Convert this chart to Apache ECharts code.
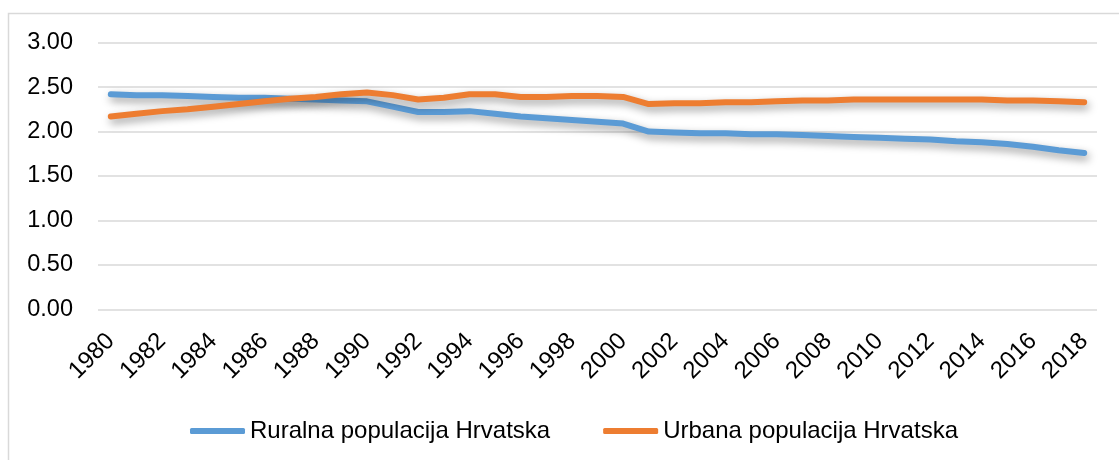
<!DOCTYPE html>
<html>
<head>
<meta charset="utf-8">
<script src="https://cdn.jsdelivr.net/npm/echarts@6/dist/echarts.min.js"></script>
<style>
html,body{margin:0;padding:0;background:#fff;}
#chart{width:1119px;height:460px;}
</style>
</head>
<body>
<div id="chart"></div>
<script>
const years = ["1980","1981","1982","1983","1984","1985","1986","1987","1988","1989","1990","1991","1992","1993","1994","1995","1996","1997","1998","1999","2000","2001","2002","2003","2004","2005","2006","2007","2008","2009","2010","2011","2012","2013","2014","2015","2016","2017","2018"];
const ruralName = "Ruralna populacija Hrvatska";
const urbanName = "Urbana populacija Hrvatska";
const rural = [2.42,2.41,2.41,2.40,2.39,2.38,2.38,2.37,2.36,2.35,2.34,2.28,2.22,2.22,2.23,2.20,2.17,2.15,2.13,2.11,2.09,2.00,1.99,1.98,1.98,1.97,1.97,1.96,1.95,1.94,1.93,1.92,1.91,1.89,1.88,1.86,1.83,1.79,1.76];
const urban = [2.17,2.20,2.23,2.25,2.28,2.31,2.34,2.37,2.39,2.42,2.44,2.41,2.36,2.38,2.42,2.42,2.39,2.39,2.40,2.40,2.39,2.31,2.32,2.32,2.33,2.33,2.34,2.35,2.35,2.36,2.36,2.36,2.36,2.36,2.36,2.35,2.35,2.34,2.33];
const yMin = 0, yMax = 3, yStep = 0.5;

const FONT = "Liberation Sans";
const chart = echarts.init(document.getElementById('chart'), null, {renderer:'canvas'});
const lineStyle = (c) => ({
  color: c, width: 6, cap: 'round', join: 'round',
  shadowColor: 'rgba(0,0,0,0.4)', shadowBlur: 8, shadowOffsetX: 2, shadowOffsetY: 4
});
chart.setOption({
  animation: false,
  backgroundColor: '#fff',
  textStyle: {fontFamily: FONT},
  graphic: [{
    type: 'rect', silent: true, z: -1,
    shape: {x: 8.5, y: 13.5, width: 1200, height: 600},
    style: {fill: 'none', stroke: '#d9d9d9', lineWidth: 1.5}
  }],
  grid: {left: 98, right: 22, top: 42.7, bottom: 150.7, containLabel: false},
  legend: {
    left: 190, top: 419, padding: 0,
    icon: 'roundRect', itemWidth: 55, itemHeight: 6, itemGap: 53,
    textStyle: {fontFamily: FONT, fontSize: 24, color: '#000'},
    data: [ruralName, urbanName]
  },
  xAxis: {
    type: 'category', data: years, boundaryGap: true,
    axisLine: {show: false}, axisTick: {show: false},
    axisLabel: {interval: 1, rotate: 45, margin: 28, fontFamily: FONT, fontSize: 24, color: '#000'}
  },
  yAxis: {
    type: 'value', min: yMin, max: yMax, interval: yStep,
    axisLine: {show: false}, axisTick: {show: false},
    axisLabel: {margin: 25, fontFamily: FONT, fontSize: 23.5, color: '#000', formatter: v => v.toFixed(2)},
    splitLine: {lineStyle: {color: '#d9d9d9', width: 1.5}}
  },
  series: [
    {name: ruralName, type: 'line', data: rural, showSymbol: false, symbol: 'none',
     itemStyle: {color: '#5B9BD5'}, lineStyle: lineStyle('#5B9BD5')},
    {name: urbanName, type: 'line', data: urban, showSymbol: false, symbol: 'none',
     itemStyle: {color: '#ED7D31'}, lineStyle: lineStyle('#ED7D31')}
  ]
});
</script>
</body>
</html>
